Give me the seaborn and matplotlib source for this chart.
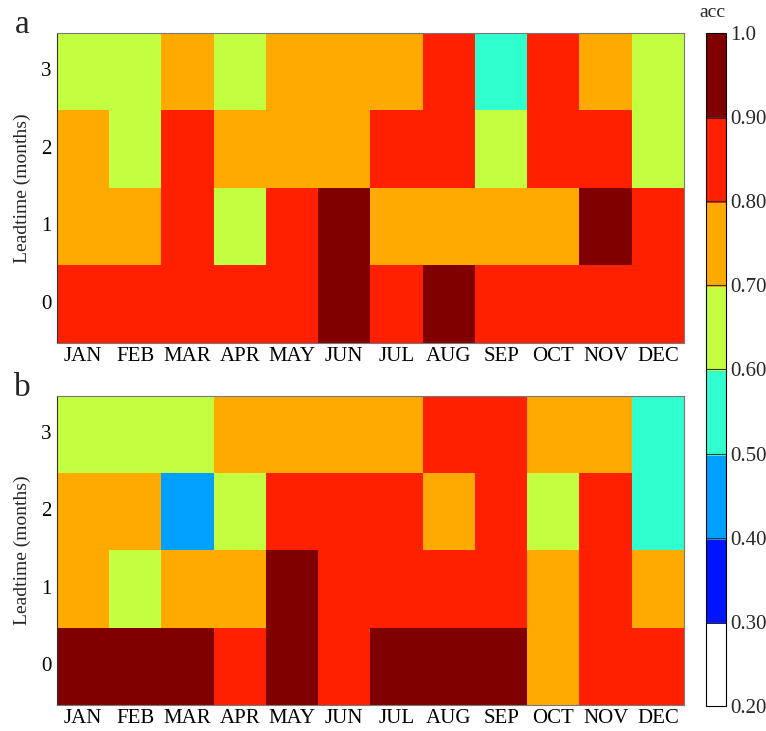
import numpy as np
import pandas as pd
import matplotlib
matplotlib.use("Agg")
import matplotlib.pyplot as plt
from matplotlib.colors import ListedColormap, BoundaryNorm
import seaborn as sns

months = ["JAN", "FEB", "MAR", "APR", "MAY", "JUN", "JUL", "AUG", "SEP", "OCT", "NOV", "DEC"]
leads = ["3", "2", "1", "0"]

# panel a (rows: lead 3, 2, 1, 0)
acc_a_lead3 = [0.65, 0.65, 0.75, 0.65, 0.75, 0.75, 0.75, 0.85, 0.55, 0.85, 0.75, 0.65]
acc_a_lead2 = [0.75, 0.65, 0.85, 0.75, 0.75, 0.75, 0.85, 0.85, 0.65, 0.85, 0.85, 0.65]
acc_a_lead1 = [0.75, 0.75, 0.85, 0.65, 0.85, 0.95, 0.75, 0.75, 0.75, 0.75, 0.95, 0.85]
acc_a_lead0 = [0.85, 0.85, 0.85, 0.85, 0.85, 0.95, 0.85, 0.95, 0.85, 0.85, 0.85, 0.85]

# panel b
acc_b_lead3 = [0.65, 0.65, 0.65, 0.75, 0.75, 0.75, 0.75, 0.85, 0.85, 0.75, 0.75, 0.55]
acc_b_lead2 = [0.75, 0.75, 0.45, 0.65, 0.85, 0.85, 0.85, 0.75, 0.85, 0.65, 0.85, 0.55]
acc_b_lead1 = [0.75, 0.65, 0.75, 0.75, 0.95, 0.85, 0.85, 0.85, 0.85, 0.75, 0.85, 0.75]
acc_b_lead0 = [0.95, 0.95, 0.95, 0.85, 0.95, 0.85, 0.95, 0.95, 0.95, 0.75, 0.85, 0.85]

bounds = [0.2, 0.3, 0.4, 0.5, 0.6, 0.7, 0.8, 0.9, 1.0]
tick_labels = ["0.20", "0.30", "0.40", "0.50", "0.60", "0.70", "0.80", "0.90", "1.0"]
colors = ["#FFFFFF", "#0014FF", "#00A0FF", "#30FFD0", "#C3FF40", "#FFAA00", "#FF2000", "#800000"]

sns.set_theme(style="white")
plt.rcParams["font.family"] = ["Liberation Serif", "DejaVu Serif"]

cmap = ListedColormap(colors)
norm = BoundaryNorm(bounds, cmap.N)

df_a = pd.DataFrame([acc_a_lead3, acc_a_lead2, acc_a_lead1, acc_a_lead0], index=leads, columns=months)
df_b = pd.DataFrame([acc_b_lead3, acc_b_lead2, acc_b_lead1, acc_b_lead0], index=leads, columns=months)

fig = plt.figure(figsize=(7.66, 7.31), dpi=100)
ax_a = fig.add_axes([0.0744, 0.5308, 0.8185, 0.4241])
ax_b = fig.add_axes([0.0744, 0.0356, 0.8185, 0.4227])
cax = fig.add_axes([0.9217, 0.0342, 0.0261, 0.9207])

sns.heatmap(df_a, ax=ax_a, cmap=cmap, norm=norm, cbar=True, cbar_ax=cax,
            linewidths=0, square=False)
sns.heatmap(df_b, ax=ax_b, cmap=cmap, norm=norm, cbar=False, linewidths=0)

for ax, lab in [(ax_a, "a"), (ax_b, "b")]:
    ax.set_xlabel("")
    ax.set_ylabel("Leadtime (months)", fontsize=14, labelpad=7)
    ax.tick_params(axis="x", length=0, labelsize=15, colors="black", pad=3)
    ax.tick_params(axis="y", length=0, labelsize=15, colors="black", pad=4)
    ax.set_yticklabels(ax.get_yticklabels(), rotation=0)
    ax.set_xticklabels(ax.get_xticklabels(), rotation=0)
    for s in ax.spines.values():
        s.set_visible(True)
        s.set_color("#777777")
        s.set_linewidth(0.8)
    ax.spines["left"].set_color("#333333")
    ax.text(-0.056, 1.028, lab, transform=ax.transAxes, fontsize=24, ha="center", va="center")

cb = ax_a.collections[0].colorbar
cb.set_ticks(bounds)
cb.set_ticklabels(tick_labels)
cb.ax.tick_params(length=0, labelsize=15, pad=3)
cb.outline.set_edgecolor("black")
cb.outline.set_linewidth(0.8)
cb.solids.set_edgecolor("face")
for b in bounds[1:-1]:
    cax.axhline(b, color="#333333", lw=0.8)
cax.text(0.3, 1.0 + 20 / 673, "acc", transform=cax.transAxes, fontsize=14,
         ha="center", va="center")

fig.savefig("out.png", dpi=100)
